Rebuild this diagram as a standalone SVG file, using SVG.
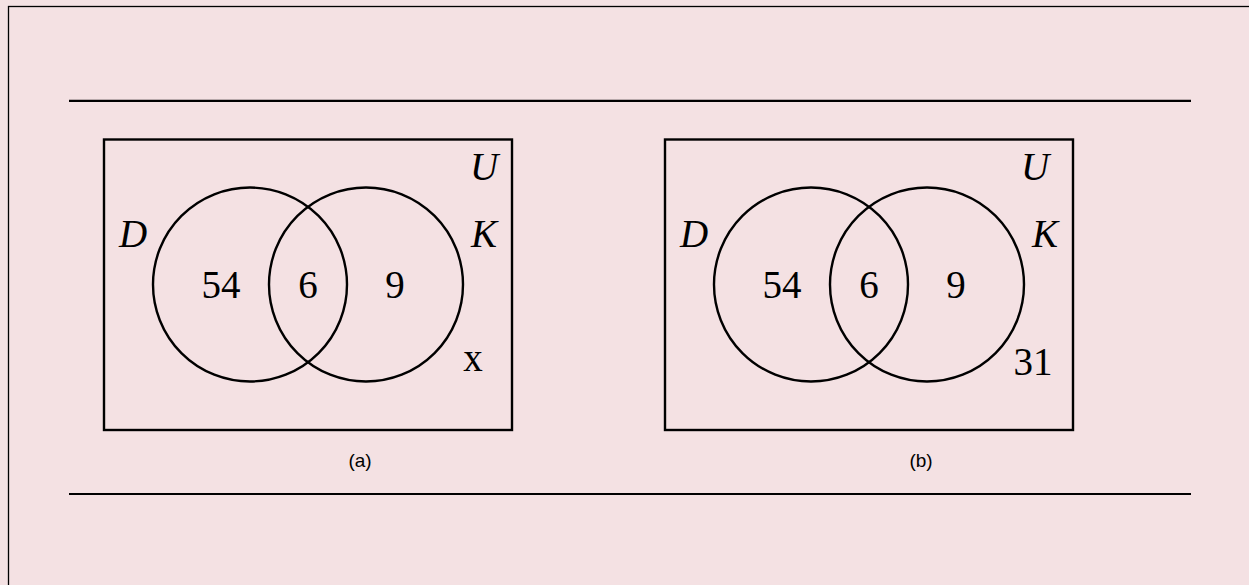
<svg xmlns="http://www.w3.org/2000/svg" width="1249" height="585" viewBox="0 0 1249 585">
<style>
.frame{fill:none;stroke:#000;stroke-width:2.4}
.set{fill:none;stroke:#000;stroke-width:2.4}
.num{font-family:"Liberation Serif",serif;font-size:39px;text-anchor:middle;fill:#000}
.lab{font-family:"Liberation Serif",serif;font-size:39px;font-style:italic;text-anchor:middle;fill:#000}
.cap{font-family:"Liberation Sans",sans-serif;font-size:19px;text-anchor:middle;fill:#000}
.rule{stroke:#000;stroke-width:2.2}
</style>
<rect x="0" y="0" width="1249" height="585" fill="#F4E1E3"/>
<rect x="8.5" y="6.5" width="1300" height="700" fill="none" stroke="#000" stroke-width="1.3"/>
<g id="rules">
<line class="rule" x1="69" y1="100.8" x2="1191" y2="100.8"/>
<line class="rule" x1="69" y1="494" x2="1191" y2="494"/>
</g>
<g id="diagram-a">
<rect class="frame" x="104" y="139.5" width="408" height="290.5"/>
<circle class="set" cx="250" cy="284.5" r="97"/>
<circle class="set" cx="366" cy="284.5" r="97"/>
<text class="lab" x="133" y="247">D</text>
<text class="lab" x="484" y="180">U</text>
<text class="lab" x="484" y="247">K</text>
<text class="num" x="221" y="298">54</text>
<text class="num" x="308" y="298">6</text>
<text class="num" x="395" y="298">9</text>
<text class="num" x="473" y="371">x</text>
<text class="cap" x="360" y="467">(a)</text>
</g>
<g id="diagram-b">
<rect class="frame" x="665" y="139.5" width="408" height="290.5"/>
<circle class="set" cx="811" cy="284.5" r="97"/>
<circle class="set" cx="927" cy="284.5" r="97"/>
<text class="lab" x="694" y="247">D</text>
<text class="lab" x="1035" y="180">U</text>
<text class="lab" x="1045" y="247">K</text>
<text class="num" x="782" y="298">54</text>
<text class="num" x="869" y="298">6</text>
<text class="num" x="956" y="298">9</text>
<text class="num" x="1033" y="375">31</text>
<text class="cap" x="921" y="467">(b)</text>
</g>
</svg>
